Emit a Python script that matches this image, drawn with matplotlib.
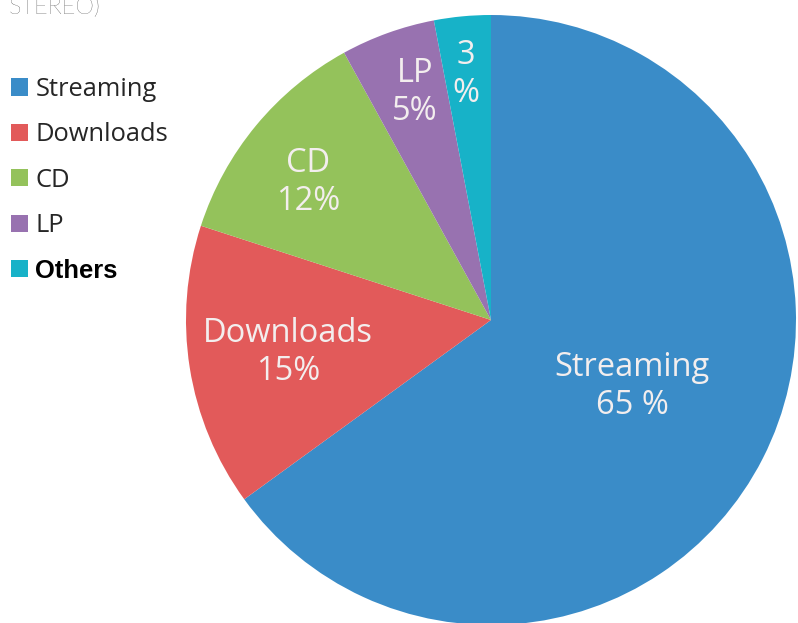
import matplotlib
matplotlib.use("Agg")
import matplotlib.pyplot as plt
from matplotlib.patches import Patch

categories = ["Streaming", "Downloads", "CD", "LP", "Others"]
values = [65, 15, 12, 5, 3]
slice_labels = ["Streaming\n65 %", "Downloads\n15%", "CD\n12%", "LP\n5%", "3\n%"]
colors = ["#3a8cc8", "#e25a5a", "#94c25b", "#9872b0", "#17b2c8"]

W, H = 798, 623
fig = plt.figure(figsize=(W / 100, H / 100), dpi=100)
ax = fig.add_axes([0, 0, 1, 1])

cx, cy, r = 491, H - 320, 305
wedges, _ = ax.pie(values, colors=colors, startangle=90, counterclock=False,
                   center=(cx, cy), radius=r, frame=True,
                   wedgeprops=dict(linewidth=0))
ax.set_xlim(0, W)
ax.set_ylim(0, H)
ax.set_aspect("equal")
ax.axis("off")

label_pos = [(632, 387), (288, 352), (308, 182), (415, 92), (466, 75)]
for txt, (x, y) in zip(slice_labels, label_pos):
    ax.text(x, H - y, txt, ha="center", va="center", color="#f3eeee",
            fontsize=23.5, family="Open Sans", linespacing=1.2)

handles = [Patch(facecolor=c, edgecolor="none") for c in colors]
leg = ax.legend(handles, categories, loc="upper left",
                bbox_to_anchor=(11 / W, 1 - 77 / H), frameon=False,
                handlelength=0.65, handleheight=0.65, handletextpad=0.3,
                labelspacing=0.8, borderaxespad=0, borderpad=0,
                prop=dict(family="Open Sans", size=18.4))
for t in leg.get_texts():
    t.set_color("#262626")
last = leg.get_texts()[-1]
last.set_fontfamily("Liberation Sans")
last.set_fontweight("bold")
last.set_color("#000000")

ax.text(9, H - 14, "STEREO)", ha="left", va="baseline", color="#222222",
        fontsize=17, family="Lato", fontweight="light")

fig.savefig("out.png", dpi=100)
